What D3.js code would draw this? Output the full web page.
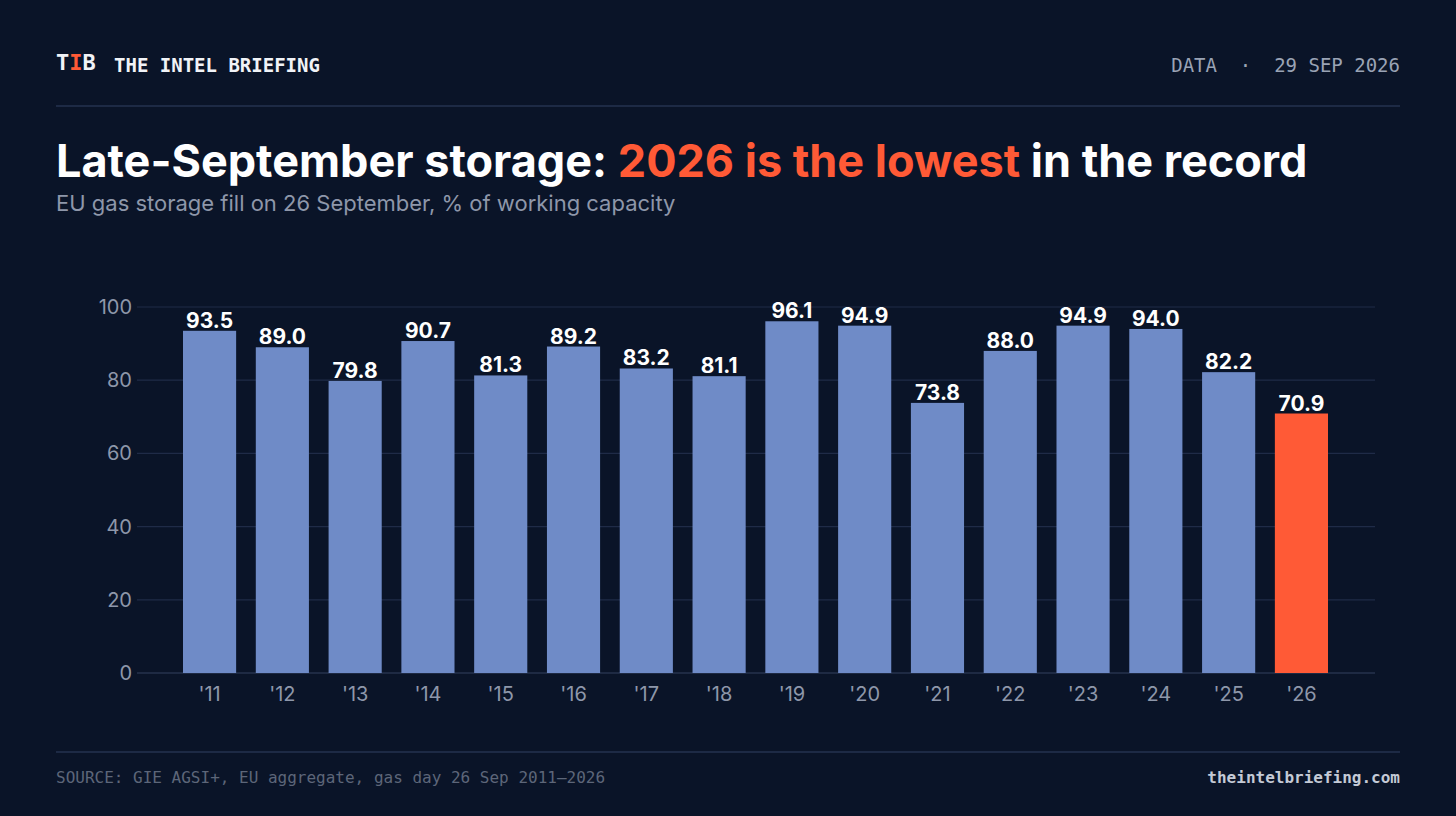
<!DOCTYPE html>
<html><head><meta charset="utf-8">
<script src="https://cdn.jsdelivr.net/npm/d3@7"></script>
<style>
body{margin:0;background:#0a1428;}
svg{display:block;}
</style></head>
<body><svg id="c" width="1456" height="816"></svg>
<script>
var years = ["'11","'12","'13","'14","'15","'16","'17","'18","'19","'20","'21","'22","'23","'24","'25","'26"];
var fill = [93.5,89.0,79.8,90.7,81.3,89.2,83.2,81.1,96.1,94.9,73.8,88.0,94.9,94.0,82.2,70.9];
var ticks = [0,20,40,60,80,100];

var svg = d3.select("#c");
var mono = "'DejaVu Sans Mono', monospace";
var sans = "Inter, 'Noto Sans', sans-serif";

svg.append("rect").attr("width",1456).attr("height",816).attr("fill","#0a1428");

// header
var logo = svg.append("text").attr("x",56).attr("y",70).attr("font-family",mono)
  .attr("font-weight","bold").attr("font-size",22).attr("fill","#f1f3f7");
logo.append("tspan").text("T");
logo.append("tspan").attr("fill","#ff5a36").text("I");
logo.append("tspan").text("B");
svg.append("text").attr("x",114).attr("y",72).attr("font-family",mono).attr("font-weight","bold")
  .attr("font-size",19).attr("fill","#f1f3f7").text("THE INTEL BRIEFING");
svg.append("text").attr("x",1400).attr("y",72).attr("text-anchor","end").attr("font-family",mono)
  .attr("font-size",19).attr("fill","#9aa3b5").attr("xml:space","preserve").text("DATA  ·  29 SEP 2026");
svg.append("line").attr("x1",56).attr("x2",1400).attr("y1",106).attr("y2",106).attr("stroke","#25324f").attr("stroke-width",1.5);

var title = svg.append("text").attr("x",56).attr("y",177).attr("font-family",sans).attr("font-weight","bold")
  .attr("font-size",45).attr("fill","#ffffff");
title.append("tspan").text("Late-September storage: ");
title.append("tspan").attr("fill","#ff5a36").text("2026 is the lowest");
title.append("tspan").text(" in the record");
svg.append("text").attr("x",56).attr("y",211).attr("font-family",sans).attr("font-size",22)
  .attr("fill","#8e97aa").text("EU gas storage fill on 26 September, % of working capacity");

// chart
var x = d3.scaleBand().domain(years).range([183,1328]).paddingInner(0.27).paddingOuter(0);
var y = d3.scaleLinear().domain([0,100]).range([673,307]);

var g = svg.append("g");
g.selectAll(".grid").data(ticks).enter().append("line")
  .attr("x1",137).attr("x2",1375).attr("y1",function(d){return y(d);}).attr("y2",function(d){return y(d);})
  .attr("stroke",function(d){return d===0?"#33405e":"#1f2b47";}).attr("stroke-width",1.2);

var yAxis = g.append("g").attr("transform","translate(132,0)")
  .call(d3.axisLeft(y).tickValues(ticks).tickSize(0).tickPadding(0));
yAxis.select(".domain").remove();
yAxis.selectAll("text").attr("font-family",sans).attr("font-size",20).attr("fill","#8e97aa");

var xAxis = g.append("g").attr("transform","translate(0,673)")
  .call(d3.axisBottom(x).tickSize(0).tickPadding(14));
xAxis.select(".domain").remove();
xAxis.selectAll("text").attr("font-family",sans).attr("font-size",20).attr("fill","#8e97aa");

g.selectAll(".bar").data(fill).enter().append("rect")
  .attr("x",function(d,i){return x(years[i]);}).attr("width",x.bandwidth())
  .attr("y",function(d){return y(d);}).attr("height",function(d){return y(0)-y(d);})
  .attr("fill",function(d,i){return i===years.length-1?"#ff5a36":"#6f8bc7";});

g.selectAll(".lbl").data(fill).enter().append("text")
  .attr("x",function(d,i){return x(years[i])+x.bandwidth()/2;}).attr("y",function(d){return y(d)-3;})
  .attr("text-anchor","middle").attr("font-family",sans).attr("font-weight","bold").attr("font-size",21)
  .attr("fill","#ffffff").text(function(d){return d.toFixed(1);});

// footer
svg.append("line").attr("x1",56).attr("x2",1400).attr("y1",752).attr("y2",752).attr("stroke","#25324f").attr("stroke-width",1.5);
svg.append("text").attr("x",56).attr("y",783).attr("font-family",mono).attr("font-size",16)
  .attr("fill","#5d6679").text("SOURCE: GIE AGSI+, EU aggregate, gas day 26 Sep 2011–2026");
svg.append("text").attr("x",1400).attr("y",783).attr("text-anchor","end").attr("font-family",mono)
  .attr("font-weight","bold").attr("font-size",16).attr("fill","#c4cad6").text("theintelbriefing.com");
</script></body></html>
